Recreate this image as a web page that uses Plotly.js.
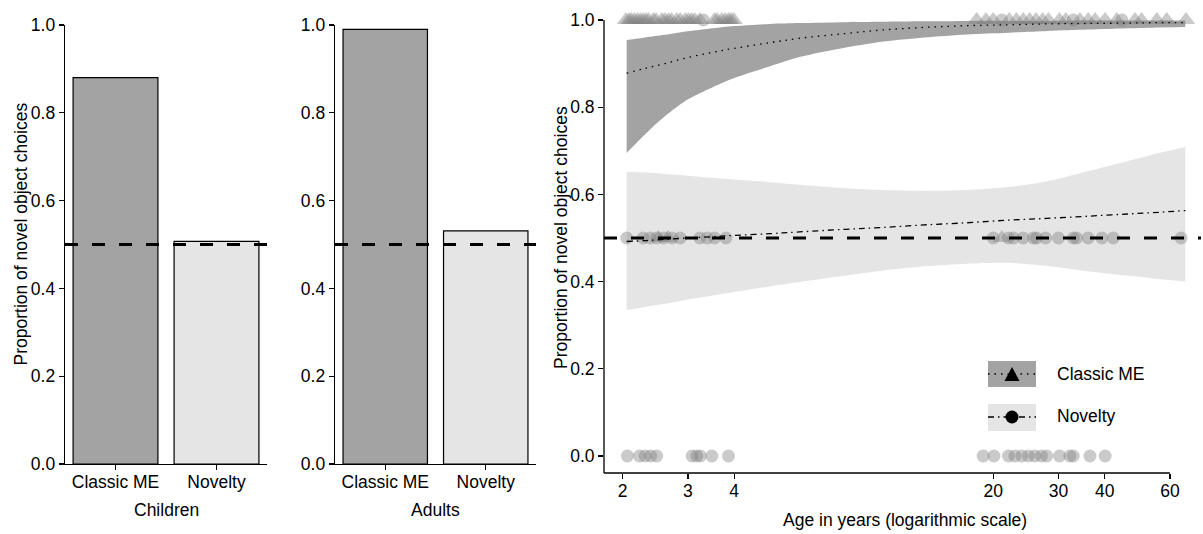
<!DOCTYPE html>
<html><head><meta charset="utf-8">
<script src="https://cdn.plot.ly/plotly-3.0.1.min.js"></script>
<style>html,body{margin:0;padding:0;background:#fff;}</style>
</head><body><div id="chart" style="width:1203px;height:534px;"></div>
<script>
// ---------- data ----------
const conditions = ['Classic ME', 'Novelty'];
const childrenProp = [0.88, 0.507];
const adultsProp = [0.99, 0.531];
const chanceLevel = 0.5;

const fitAge = [2.05, 2.3, 2.6, 3, 3.5, 4, 5, 6, 8, 10, 13, 17, 22, 28, 36, 46, 56, 66];
const classicFit   = [0.878, 0.889, 0.900, 0.914, 0.926, 0.935, 0.948, 0.958, 0.969, 0.977, 0.983, 0.987, 0.989, 0.991, 0.992, 0.993, 0.994, 0.994];
const classicLower = [0.695, 0.738, 0.779, 0.818, 0.846, 0.867, 0.894, 0.915, 0.937, 0.950, 0.960, 0.967, 0.971, 0.975, 0.978, 0.981, 0.983, 0.984];
const classicUpper = [0.954, 0.960, 0.966, 0.974, 0.981, 0.986, 0.991, 0.993, 0.995, 0.996, 0.997, 0.998, 0.998, 0.998, 0.999, 0.999, 0.999, 0.999];
const noveltyFit   = [0.492, 0.494, 0.497, 0.500, 0.503, 0.506, 0.510, 0.514, 0.520, 0.524, 0.530, 0.535, 0.541, 0.545, 0.550, 0.555, 0.559, 0.563];
const noveltyLower = [0.335, 0.342, 0.349, 0.359, 0.368, 0.376, 0.389, 0.399, 0.414, 0.425, 0.435, 0.441, 0.443, 0.436, 0.424, 0.414, 0.406, 0.400];
const noveltyUpper = [0.652, 0.650, 0.647, 0.643, 0.638, 0.634, 0.628, 0.622, 0.614, 0.610, 0.608, 0.610, 0.617, 0.630, 0.653, 0.676, 0.695, 0.709];

const classicAge = [2.04, 2.08, 2.11, 2.15, 2.19, 2.23, 2.27, 2.31, 2.35, 2.42, 2.46, 2.55, 2.60, 2.66, 2.71, 2.80, 2.86, 2.95, 3.01, 3.07, 3.13, 3.23, 3.54, 3.60, 3.70, 3.78, 3.86, 3.92, 3.99,
  2.50, 2.65,
  18.05, 19.12, 20.0, 22.1, 23.1, 24.1, 25.1, 26.1, 27.2, 28.2, 30.2, 31.4, 34.3, 36.1, 37.7, 40.1, 43.1, 48.3, 50.3, 55.3, 58.8, 66.3,
  21.1];
const classicProp = [1, 1, 1, 1, 1, 1, 1, 1, 1, 1, 1, 1, 1, 1, 1, 1, 1, 1, 1, 1, 1, 1, 1, 1, 1, 1, 1, 1, 1,
  0.5, 0.5,
  1, 1, 1, 1, 1, 1, 1, 1, 1, 1, 1, 1, 1, 1, 1, 1, 1, 1, 1, 1, 1, 1,
  0.5];

const noveltyAge = [2.05, 2.27, 2.37, 2.47, 2.58, 2.72, 2.86, 3.23, 3.38, 3.54, 3.80,
  2.06, 2.22, 2.30, 2.38, 2.47, 3.08, 3.17, 3.24, 3.48, 3.86,
  3.3,
  20.0, 22.0, 22.7, 24.1, 25.7, 26.2, 27.7, 30.0, 32.9, 33.6, 36.1, 39.3, 42.2, 64.3,
  18.8, 20.1, 22.0, 22.9, 23.9, 24.9, 25.9, 27.0, 27.9, 30.2, 32.2, 32.9, 36.5, 40.1,
  21.1, 32.9, 44.5];
const noveltyProp = [0.5, 0.5, 0.5, 0.5, 0.5, 0.5, 0.5, 0.5, 0.5, 0.5, 0.5,
  0, 0, 0, 0, 0, 0, 0, 0, 0, 0,
  1,
  0.5, 0.5, 0.5, 0.5, 0.5, 0.5, 0.5, 0.5, 0.5, 0.5, 0.5, 0.5, 0.5, 0.5,
  0, 0, 0, 0, 0, 0, 0, 0, 0, 0, 0, 0, 0, 0,
  1, 1, 1];

const yTicks = [0, 0.2, 0.4, 0.6, 0.8, 1.0];
const xTicksAge = [2, 3, 4, 20, 30, 40, 60];

// ---------- style ----------
const W = 1203, H = 534;
const FONT = 'Liberation Sans, Arial, Helvetica, sans-serif';
const darkGrey = '#a3a3a3', lightGrey = '#e5e5e5';
const pointCol = 'rgba(128,128,128,0.42)';
const px = v => v / W;
const py = v => 1 - v / H;

const yRange3 = [-0.039, 1.039];
const xRange3 = [0.2506, 1.862];

const tickFont = {family: FONT, size: 17.5, color: '#000'};
const axisCommon = {
  showgrid: false, zeroline: false, ticks: 'outside', ticklen: 5, tickwidth: 1.2,
  tickcolor: '#000', tickfont: tickFont, fixedrange: true
};

const smooth = {width: 0, shape: 'spline', smoothing: 0.8};
const traces = [
  {type: 'bar', x: conditions, y: childrenProp, xaxis: 'x', yaxis: 'y', width: 0.84,
   marker: {color: [darkGrey, lightGrey], line: {color: '#000', width: 1.2}}, showlegend: false, hoverinfo: 'y'},
  {type: 'bar', x: conditions, y: adultsProp, xaxis: 'x2', yaxis: 'y2', width: 0.84,
   marker: {color: [darkGrey, lightGrey], line: {color: '#000', width: 1.2}}, showlegend: false, hoverinfo: 'y'},
  {type: 'scatter', mode: 'lines', x: fitAge, y: classicLower, xaxis: 'x3', yaxis: 'y3',
   line: smooth, showlegend: false, hoverinfo: 'skip'},
  {type: 'scatter', mode: 'lines', x: fitAge, y: classicUpper, xaxis: 'x3', yaxis: 'y3',
   line: smooth, fill: 'tonexty', fillcolor: darkGrey, showlegend: false, hoverinfo: 'skip'},
  {type: 'scatter', mode: 'lines', x: fitAge, y: noveltyLower, xaxis: 'x3', yaxis: 'y3',
   line: smooth, showlegend: false, hoverinfo: 'skip'},
  {type: 'scatter', mode: 'lines', x: fitAge, y: noveltyUpper, xaxis: 'x3', yaxis: 'y3',
   line: smooth, fill: 'tonexty', fillcolor: lightGrey, showlegend: false, hoverinfo: 'skip'},
  {type: 'scatter', mode: 'markers', x: classicAge, y: classicProp, xaxis: 'x3', yaxis: 'y3',
   marker: {symbol: 'triangle-up', size: 16, color: pointCol, line: {width: 0}}, showlegend: false, name: 'Classic ME'},
  {type: 'scatter', mode: 'markers', x: noveltyAge, y: noveltyProp, xaxis: 'x3', yaxis: 'y3',
   marker: {symbol: 'circle', size: 13, color: pointCol, line: {width: 0}}, showlegend: false, name: 'Novelty'},
  {type: 'scatter', mode: 'lines', x: fitAge, y: classicFit, xaxis: 'x3', yaxis: 'y3',
   line: {color: '#000', width: 1.3, dash: '1.5px,5px', shape: 'spline'}, showlegend: false, name: 'Classic ME'},
  {type: 'scatter', mode: 'lines', x: fitAge, y: noveltyFit, xaxis: 'x3', yaxis: 'y3',
   line: {color: '#000', width: 1.3, dash: '6px,4px,1.5px,4px', shape: 'spline'}, showlegend: false, name: 'Novelty'}
];

const yTickText = yTicks.map(v => v.toFixed(1));
const xFrac60 = (Math.log10(60) - xRange3[0]) / (xRange3[1] - xRange3[0]);

const hDash = {color: '#000', width: 3, dash: '13px,14px'};
const shapes = [
  {type: 'line', xref: 'x domain', yref: 'y', x0: 0, x1: 1, y0: chanceLevel, y1: chanceLevel, line: hDash, layer: 'above'},
  {type: 'line', xref: 'x2 domain', yref: 'y2', x0: 0, x1: 1, y0: chanceLevel, y1: chanceLevel, line: hDash, layer: 'above'},
  {type: 'line', xref: 'x3 domain', yref: 'y3', x0: 0, x1: 1, y0: chanceLevel, y1: chanceLevel, line: hDash, layer: 'above'},
  // capped axis lines of right panel
  {type: 'line', xref: 'x3 domain', yref: 'y3', x0: 0, x1: 0, y0: yRange3[0], y1: 1, line: {color: '#000', width: 1.3}, layer: 'above'},
  {type: 'line', xref: 'x3 domain', yref: 'y3 domain', x0: 0, x1: xFrac60, y0: 0, y1: 0, line: {color: '#000', width: 1.3}, layer: 'above'},
  // legend
  {type: 'rect', xref: 'paper', yref: 'paper', x0: px(988), x1: px(1036), y0: py(387), y1: py(361), fillcolor: darkGrey, line: {width: 0}},
  {type: 'rect', xref: 'paper', yref: 'paper', x0: px(988), x1: px(1036), y0: py(431), y1: py(404), fillcolor: lightGrey, line: {width: 0}},
  {type: 'line', xref: 'paper', yref: 'paper', x0: px(988), x1: px(1036), y0: py(374), y1: py(374), line: {color: '#000', width: 1.3, dash: '1.5px,5px'}},
  {type: 'line', xref: 'paper', yref: 'paper', x0: px(988), x1: px(1036), y0: py(417), y1: py(417), line: {color: '#000', width: 1.3, dash: '6px,4px,1.5px,4px'}},
  {type: 'path', xref: 'paper', yref: 'paper',
   path: `M ${px(1004.5)} ${py(381)} L ${px(1019.5)} ${py(381)} L ${px(1012)} ${py(367)} Z`,
   fillcolor: '#000', line: {width: 0}},
  {type: 'circle', xref: 'paper', yref: 'paper', x0: px(1005.5), x1: px(1018.5), y0: py(423.5), y1: py(410.5), fillcolor: '#000', line: {width: 0}}
];

const titleFont = {family: FONT, size: 17.5, color: '#000'};
const annotations = [
  {text: 'Proportion of novel object choices', xref: 'paper', yref: 'paper', x: px(20.5), y: py(234), textangle: -90, showarrow: false, font: titleFont, xanchor: 'center', yanchor: 'middle'},
  {text: 'Proportion of novel object choices', xref: 'paper', yref: 'paper', x: px(561), y: py(238), textangle: -90, showarrow: false, font: titleFont, xanchor: 'center', yanchor: 'middle'},
  {text: 'Children', xref: 'paper', yref: 'paper', x: px(166), y: py(510), showarrow: false, font: titleFont, xanchor: 'center', yanchor: 'middle'},
  {text: 'Adults', xref: 'paper', yref: 'paper', x: px(435.5), y: py(510), showarrow: false, font: titleFont, xanchor: 'center', yanchor: 'middle'},
  {text: 'Age in years (logarithmic scale)', xref: 'paper', yref: 'paper', x: px(905), y: py(520), showarrow: false, font: titleFont, xanchor: 'center', yanchor: 'middle'},
  {text: 'Classic ME', xref: 'paper', yref: 'paper', x: px(1055), y: py(374), showarrow: false, font: titleFont, xanchor: 'left', yanchor: 'middle'},
  {text: 'Novelty', xref: 'paper', yref: 'paper', x: px(1055), y: py(416), showarrow: false, font: titleFont, xanchor: 'left', yanchor: 'middle'}
];

const layout = {
  width: W, height: H, margin: {l: 0, r: 0, t: 0, b: 0},
  paper_bgcolor: '#fff', plot_bgcolor: 'rgba(0,0,0,0)', showlegend: false,
  font: {family: FONT, color: '#000'},
  xaxis: Object.assign({}, axisCommon, {domain: [px(65), px(267)], anchor: 'y', type: 'category', range: [-0.5, 1.5],
    showline: true, linecolor: '#000', linewidth: 1.3, ticklabelstandoff: -3}),
  yaxis: Object.assign({}, axisCommon, {domain: [py(464), py(25)], anchor: 'x', range: [0, 1],
    tickvals: yTicks, ticktext: yTickText, showline: true, linecolor: '#000', linewidth: 1.3}),
  xaxis2: Object.assign({}, axisCommon, {domain: [px(335), px(536)], anchor: 'y2', type: 'category', range: [-0.5, 1.5],
    showline: true, linecolor: '#000', linewidth: 1.3, ticklabelstandoff: -3}),
  yaxis2: Object.assign({}, axisCommon, {domain: [py(464), py(25)], anchor: 'x2', range: [0, 1],
    tickvals: yTicks, ticktext: yTickText, showline: true, linecolor: '#000', linewidth: 1.3}),
  xaxis3: Object.assign({}, axisCommon, {domain: [px(604), px(1201)], anchor: 'y3', type: 'log', range: xRange3,
    tickvals: xTicksAge, ticktext: xTicksAge.map(String), showline: false, ticklabelstandoff: -3}),
  yaxis3: Object.assign({}, axisCommon, {domain: [py(473), py(3)], anchor: 'x3', range: yRange3,
    tickvals: yTicks, ticktext: yTickText, showline: false}),
  shapes: shapes,
  annotations: annotations,
  bargap: 0
};

Plotly.newPlot('chart', traces, layout, {displayModeBar: false, staticPlot: true});
</script>
</body></html>
